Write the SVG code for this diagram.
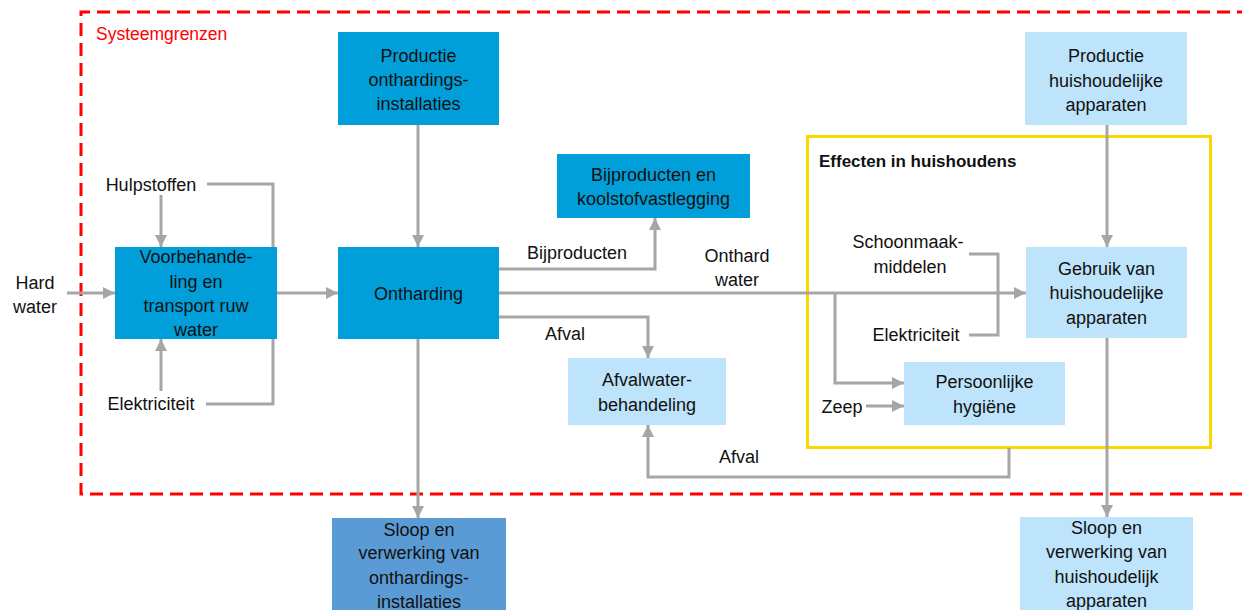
<svg xmlns="http://www.w3.org/2000/svg" width="1242" height="610" viewBox="0 0 1242 610">
<style>
text{font-family:"Liberation Sans",Arial,sans-serif;font-size:18px;fill:#111}
.c{text-anchor:middle}
.dark{fill:#009FDA}
.light{fill:#BDE4FB}
.mid{fill:#5B9BD5}
.ln{fill:none;stroke:#A6A6A6;stroke-width:3}
.arr{marker-end:url(#ah)}
</style>
<defs>
<marker id="ah" viewBox="0 0 10 10" refX="10" refY="5" markerWidth="12" markerHeight="13" markerUnits="userSpaceOnUse" orient="auto">
<path d="M0,0 L10,5 L0,10 z" fill="#A6A6A6"/>
</marker>
</defs>
<rect width="1242" height="610" fill="#fff"/>
<g id="systeemgrenzen">
<path d="M1250,12 H81 V494 H1250" fill="none" stroke="#FF0000" stroke-width="3" stroke-dasharray="13 7"/>
<text x="96" y="40" style="fill:#FF0000;font-size:17.5px">Systeemgrenzen</text>
</g>
<g id="effecten">
<rect x="807.5" y="136.5" width="403" height="311" fill="none" stroke="#FFD700" stroke-width="3"/>
<text x="819" y="167" style="font-weight:bold;font-size:17px">Effecten in huishoudens</text>
</g>
<g id="connectors">
<path class="ln arr" d="M67,293 H115"/>
<path class="ln" d="M207,184 H273 V247"/>
<path class="ln arr" d="M161,195 V247"/>
<path class="ln arr" d="M161,391 V339"/>
<path class="ln arr" d="M206,404 H273 V293 H338"/>
<path class="ln" d="M277,293 H273"/>
<path class="ln arr" d="M418,125 V247"/>
<path class="ln arr" d="M418,339 V518"/>
<path class="ln arr" d="M499,269 H655 V218"/>
<path class="ln arr" d="M499,293 H1026"/>
<path class="ln arr" d="M499,317 H648 V358"/>
<path class="ln arr" d="M835,293 V383 H904"/>
<path class="ln arr" d="M866,406 H904"/>
<path class="ln" d="M969,254 H998 V335 H969"/>
<path class="ln arr" d="M1107,125 V247"/>
<path class="ln arr" d="M1107,338 V517"/>
<path class="ln arr" d="M1009,448 V477 H648 V425"/>
</g>
<g id="labels">
<text class="c" x="35" y="289">Hard</text>
<text class="c" x="35" y="313">water</text>
<text class="c" x="151" y="191">Hulpstoffen</text>
<text class="c" x="151" y="410">Elektriciteit</text>
<text class="c" x="577" y="259">Bijproducten</text>
<text class="c" x="737" y="262">Onthard</text>
<text class="c" x="737" y="286">water</text>
<text class="c" x="565" y="340">Afval</text>
<text class="c" x="739" y="463">Afval</text>
<text class="c" x="908" y="248">Schoonmaak-</text>
<text class="c" x="910" y="273">middelen</text>
<text class="c" x="916" y="341">Elektriciteit</text>
<text class="c" x="842" y="413">Zeep</text>
</g>
<g id="productie-onthardingsinstallaties">
<rect class="dark" x="338" y="32" width="161" height="93"/>
<text class="c" x="418.5" y="62">Productie</text>
<text class="c" x="418.5" y="86">onthardings-</text>
<text class="c" x="418.5" y="110">installaties</text>
</g>
<g id="voorbehandeling">
<rect class="dark" x="115" y="247" width="162" height="92"/>
<text class="c" x="196" y="263">Voorbehande-</text>
<text class="c" x="196" y="288">ling en</text>
<text class="c" x="196" y="312">transport ruw</text>
<text class="c" x="196" y="336">water</text>
</g>
<g id="ontharding">
<rect class="dark" x="338" y="247" width="161" height="92"/>
<text class="c" x="418.5" y="300">Ontharding</text>
</g>
<g id="bijproducten">
<rect class="dark" x="557" y="154" width="193" height="64"/>
<text class="c" x="653.5" y="181">Bijproducten en</text>
<text class="c" x="653.5" y="205">koolstofvastlegging</text>
</g>
<g id="afvalwaterbehandeling">
<rect class="light" x="568" y="358" width="158" height="67"/>
<text class="c" x="647" y="386">Afvalwater-</text>
<text class="c" x="647" y="411">behandeling</text>
</g>
<g id="productie-huishoudelijke-apparaten">
<rect class="light" x="1025" y="32" width="162" height="93"/>
<text class="c" x="1106" y="62">Productie</text>
<text class="c" x="1106" y="87">huishoudelijke</text>
<text class="c" x="1106" y="111">apparaten</text>
</g>
<g id="gebruik">
<rect class="light" x="1026" y="247" width="161" height="91"/>
<text class="c" x="1106.5" y="275">Gebruik van</text>
<text class="c" x="1106.5" y="299">huishoudelijke</text>
<text class="c" x="1106.5" y="324">apparaten</text>
</g>
<g id="persoonlijke-hygiene">
<rect class="light" x="904" y="362" width="161" height="63"/>
<text class="c" x="984.5" y="388">Persoonlijke</text>
<text class="c" x="984.5" y="413">hygiëne</text>
</g>
<g id="sloop-onthardingsinstallaties">
<rect class="mid" x="332" y="518" width="174" height="100"/>
<text class="c" x="419" y="536">Sloop en</text>
<text class="c" x="419" y="559">verwerking van</text>
<text class="c" x="419" y="584">onthardings-</text>
<text class="c" x="419" y="608">installaties</text>
</g>
<g id="sloop-huishoudelijk">
<rect class="light" x="1020" y="517" width="173" height="100"/>
<text class="c" x="1106.5" y="534">Sloop en</text>
<text class="c" x="1106.5" y="558">verwerking van</text>
<text class="c" x="1106.5" y="583">huishoudelijk</text>
<text class="c" x="1106.5" y="607">apparaten</text>
</g>
</svg>
